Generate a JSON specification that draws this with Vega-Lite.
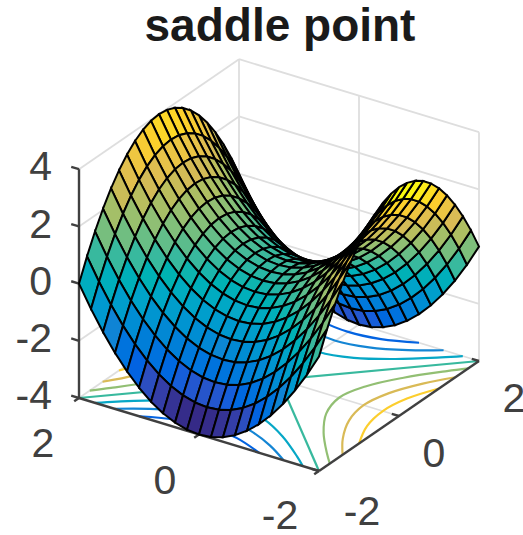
{"$schema":"https://vega.github.io/schema/vega-lite/v6.json","width":523,"height":535,"padding":0,"autosize":"none","background":"white",
"config":{"view":{"stroke":null}},
"datasets":{
"surface":[
{"x":2,"y":2,"z":0},{"x":2,"y":1.8,"z":-0.76},{"x":2,"y":1.6,"z":-1.44},{"x":2,"y":1.4,"z":-2.04},{"x":2,"y":1.2,"z":-2.56},{"x":2,"y":1,"z":-3},{"x":2,"y":0.8,"z":-3.36},{"x":2,"y":0.6,"z":-3.64},{"x":2,"y":0.4,"z":-3.84},{"x":2,"y":0.2,"z":-3.96},{"x":2,"y":0,"z":-4},{"x":2,"y":-0.2,"z":-3.96},{"x":2,"y":-0.4,"z":-3.84},{"x":2,"y":-0.6,"z":-3.64},{"x":2,"y":-0.8,"z":-3.36},{"x":2,"y":-1,"z":-3},{"x":2,"y":-1.2,"z":-2.56},{"x":2,"y":-1.4,"z":-2.04},{"x":2,"y":-1.6,"z":-1.44},{"x":2,"y":-1.8,"z":-0.76},{"x":2,"y":-2,"z":0},
{"x":1.8,"y":2,"z":0.76},{"x":1.8,"y":1.8,"z":0},{"x":1.8,"y":1.6,"z":-0.68},{"x":1.8,"y":1.4,"z":-1.28},{"x":1.8,"y":1.2,"z":-1.8},{"x":1.8,"y":1,"z":-2.24},{"x":1.8,"y":0.8,"z":-2.6},{"x":1.8,"y":0.6,"z":-2.88},{"x":1.8,"y":0.4,"z":-3.08},{"x":1.8,"y":0.2,"z":-3.2},{"x":1.8,"y":0,"z":-3.24},{"x":1.8,"y":-0.2,"z":-3.2},{"x":1.8,"y":-0.4,"z":-3.08},{"x":1.8,"y":-0.6,"z":-2.88},{"x":1.8,"y":-0.8,"z":-2.6},{"x":1.8,"y":-1,"z":-2.24},{"x":1.8,"y":-1.2,"z":-1.8},{"x":1.8,"y":-1.4,"z":-1.28},{"x":1.8,"y":-1.6,"z":-0.68},{"x":1.8,"y":-1.8,"z":0},{"x":1.8,"y":-2,"z":0.76},
{"x":1.6,"y":2,"z":1.44},{"x":1.6,"y":1.8,"z":0.68},{"x":1.6,"y":1.6,"z":0},{"x":1.6,"y":1.4,"z":-0.6},{"x":1.6,"y":1.2,"z":-1.12},{"x":1.6,"y":1,"z":-1.56},{"x":1.6,"y":0.8,"z":-1.92},{"x":1.6,"y":0.6,"z":-2.2},{"x":1.6,"y":0.4,"z":-2.4},{"x":1.6,"y":0.2,"z":-2.52},{"x":1.6,"y":0,"z":-2.56},{"x":1.6,"y":-0.2,"z":-2.52},{"x":1.6,"y":-0.4,"z":-2.4},{"x":1.6,"y":-0.6,"z":-2.2},{"x":1.6,"y":-0.8,"z":-1.92},{"x":1.6,"y":-1,"z":-1.56},{"x":1.6,"y":-1.2,"z":-1.12},{"x":1.6,"y":-1.4,"z":-0.6},{"x":1.6,"y":-1.6,"z":0},{"x":1.6,"y":-1.8,"z":0.68},{"x":1.6,"y":-2,"z":1.44},
{"x":1.4,"y":2,"z":2.04},{"x":1.4,"y":1.8,"z":1.28},{"x":1.4,"y":1.6,"z":0.6},{"x":1.4,"y":1.4,"z":0},{"x":1.4,"y":1.2,"z":-0.52},{"x":1.4,"y":1,"z":-0.96},{"x":1.4,"y":0.8,"z":-1.32},{"x":1.4,"y":0.6,"z":-1.6},{"x":1.4,"y":0.4,"z":-1.8},{"x":1.4,"y":0.2,"z":-1.92},{"x":1.4,"y":0,"z":-1.96},{"x":1.4,"y":-0.2,"z":-1.92},{"x":1.4,"y":-0.4,"z":-1.8},{"x":1.4,"y":-0.6,"z":-1.6},{"x":1.4,"y":-0.8,"z":-1.32},{"x":1.4,"y":-1,"z":-0.96},{"x":1.4,"y":-1.2,"z":-0.52},{"x":1.4,"y":-1.4,"z":0},{"x":1.4,"y":-1.6,"z":0.6},{"x":1.4,"y":-1.8,"z":1.28},{"x":1.4,"y":-2,"z":2.04},
{"x":1.2,"y":2,"z":2.56},{"x":1.2,"y":1.8,"z":1.8},{"x":1.2,"y":1.6,"z":1.12},{"x":1.2,"y":1.4,"z":0.52},{"x":1.2,"y":1.2,"z":0},{"x":1.2,"y":1,"z":-0.44},{"x":1.2,"y":0.8,"z":-0.8},{"x":1.2,"y":0.6,"z":-1.08},{"x":1.2,"y":0.4,"z":-1.28},{"x":1.2,"y":0.2,"z":-1.4},{"x":1.2,"y":0,"z":-1.44},{"x":1.2,"y":-0.2,"z":-1.4},{"x":1.2,"y":-0.4,"z":-1.28},{"x":1.2,"y":-0.6,"z":-1.08},{"x":1.2,"y":-0.8,"z":-0.8},{"x":1.2,"y":-1,"z":-0.44},{"x":1.2,"y":-1.2,"z":0},{"x":1.2,"y":-1.4,"z":0.52},{"x":1.2,"y":-1.6,"z":1.12},{"x":1.2,"y":-1.8,"z":1.8},{"x":1.2,"y":-2,"z":2.56},
{"x":1,"y":2,"z":3},{"x":1,"y":1.8,"z":2.24},{"x":1,"y":1.6,"z":1.56},{"x":1,"y":1.4,"z":0.96},{"x":1,"y":1.2,"z":0.44},{"x":1,"y":1,"z":0},{"x":1,"y":0.8,"z":-0.36},{"x":1,"y":0.6,"z":-0.64},{"x":1,"y":0.4,"z":-0.84},{"x":1,"y":0.2,"z":-0.96},{"x":1,"y":0,"z":-1},{"x":1,"y":-0.2,"z":-0.96},{"x":1,"y":-0.4,"z":-0.84},{"x":1,"y":-0.6,"z":-0.64},{"x":1,"y":-0.8,"z":-0.36},{"x":1,"y":-1,"z":0},{"x":1,"y":-1.2,"z":0.44},{"x":1,"y":-1.4,"z":0.96},{"x":1,"y":-1.6,"z":1.56},{"x":1,"y":-1.8,"z":2.24},{"x":1,"y":-2,"z":3},
{"x":0.8,"y":2,"z":3.36},{"x":0.8,"y":1.8,"z":2.6},{"x":0.8,"y":1.6,"z":1.92},{"x":0.8,"y":1.4,"z":1.32},{"x":0.8,"y":1.2,"z":0.8},{"x":0.8,"y":1,"z":0.36},{"x":0.8,"y":0.8,"z":0},{"x":0.8,"y":0.6,"z":-0.28},{"x":0.8,"y":0.4,"z":-0.48},{"x":0.8,"y":0.2,"z":-0.6},{"x":0.8,"y":0,"z":-0.64},{"x":0.8,"y":-0.2,"z":-0.6},{"x":0.8,"y":-0.4,"z":-0.48},{"x":0.8,"y":-0.6,"z":-0.28},{"x":0.8,"y":-0.8,"z":0},{"x":0.8,"y":-1,"z":0.36},{"x":0.8,"y":-1.2,"z":0.8},{"x":0.8,"y":-1.4,"z":1.32},{"x":0.8,"y":-1.6,"z":1.92},{"x":0.8,"y":-1.8,"z":2.6},{"x":0.8,"y":-2,"z":3.36},
{"x":0.6,"y":2,"z":3.64},{"x":0.6,"y":1.8,"z":2.88},{"x":0.6,"y":1.6,"z":2.2},{"x":0.6,"y":1.4,"z":1.6},{"x":0.6,"y":1.2,"z":1.08},{"x":0.6,"y":1,"z":0.64},{"x":0.6,"y":0.8,"z":0.28},{"x":0.6,"y":0.6,"z":0},{"x":0.6,"y":0.4,"z":-0.2},{"x":0.6,"y":0.2,"z":-0.32},{"x":0.6,"y":0,"z":-0.36},{"x":0.6,"y":-0.2,"z":-0.32},{"x":0.6,"y":-0.4,"z":-0.2},{"x":0.6,"y":-0.6,"z":0},{"x":0.6,"y":-0.8,"z":0.28},{"x":0.6,"y":-1,"z":0.64},{"x":0.6,"y":-1.2,"z":1.08},{"x":0.6,"y":-1.4,"z":1.6},{"x":0.6,"y":-1.6,"z":2.2},{"x":0.6,"y":-1.8,"z":2.88},{"x":0.6,"y":-2,"z":3.64},
{"x":0.4,"y":2,"z":3.84},{"x":0.4,"y":1.8,"z":3.08},{"x":0.4,"y":1.6,"z":2.4},{"x":0.4,"y":1.4,"z":1.8},{"x":0.4,"y":1.2,"z":1.28},{"x":0.4,"y":1,"z":0.84},{"x":0.4,"y":0.8,"z":0.48},{"x":0.4,"y":0.6,"z":0.2},{"x":0.4,"y":0.4,"z":0},{"x":0.4,"y":0.2,"z":-0.12},{"x":0.4,"y":0,"z":-0.16},{"x":0.4,"y":-0.2,"z":-0.12},{"x":0.4,"y":-0.4,"z":0},{"x":0.4,"y":-0.6,"z":0.2},{"x":0.4,"y":-0.8,"z":0.48},{"x":0.4,"y":-1,"z":0.84},{"x":0.4,"y":-1.2,"z":1.28},{"x":0.4,"y":-1.4,"z":1.8},{"x":0.4,"y":-1.6,"z":2.4},{"x":0.4,"y":-1.8,"z":3.08},{"x":0.4,"y":-2,"z":3.84},
{"x":0.2,"y":2,"z":3.96},{"x":0.2,"y":1.8,"z":3.2},{"x":0.2,"y":1.6,"z":2.52},{"x":0.2,"y":1.4,"z":1.92},{"x":0.2,"y":1.2,"z":1.4},{"x":0.2,"y":1,"z":0.96},{"x":0.2,"y":0.8,"z":0.6},{"x":0.2,"y":0.6,"z":0.32},{"x":0.2,"y":0.4,"z":0.12},{"x":0.2,"y":0.2,"z":0},{"x":0.2,"y":0,"z":-0.04},{"x":0.2,"y":-0.2,"z":0},{"x":0.2,"y":-0.4,"z":0.12},{"x":0.2,"y":-0.6,"z":0.32},{"x":0.2,"y":-0.8,"z":0.6},{"x":0.2,"y":-1,"z":0.96},{"x":0.2,"y":-1.2,"z":1.4},{"x":0.2,"y":-1.4,"z":1.92},{"x":0.2,"y":-1.6,"z":2.52},{"x":0.2,"y":-1.8,"z":3.2},{"x":0.2,"y":-2,"z":3.96},
{"x":0,"y":2,"z":4},{"x":0,"y":1.8,"z":3.24},{"x":0,"y":1.6,"z":2.56},{"x":0,"y":1.4,"z":1.96},{"x":0,"y":1.2,"z":1.44},{"x":0,"y":1,"z":1},{"x":0,"y":0.8,"z":0.64},{"x":0,"y":0.6,"z":0.36},{"x":0,"y":0.4,"z":0.16},{"x":0,"y":0.2,"z":0.04},{"x":0,"y":0,"z":0},{"x":0,"y":-0.2,"z":0.04},{"x":0,"y":-0.4,"z":0.16},{"x":0,"y":-0.6,"z":0.36},{"x":0,"y":-0.8,"z":0.64},{"x":0,"y":-1,"z":1},{"x":0,"y":-1.2,"z":1.44},{"x":0,"y":-1.4,"z":1.96},{"x":0,"y":-1.6,"z":2.56},{"x":0,"y":-1.8,"z":3.24},{"x":0,"y":-2,"z":4},
{"x":-0.2,"y":2,"z":3.96},{"x":-0.2,"y":1.8,"z":3.2},{"x":-0.2,"y":1.6,"z":2.52},{"x":-0.2,"y":1.4,"z":1.92},{"x":-0.2,"y":1.2,"z":1.4},{"x":-0.2,"y":1,"z":0.96},{"x":-0.2,"y":0.8,"z":0.6},{"x":-0.2,"y":0.6,"z":0.32},{"x":-0.2,"y":0.4,"z":0.12},{"x":-0.2,"y":0.2,"z":0},{"x":-0.2,"y":0,"z":-0.04},{"x":-0.2,"y":-0.2,"z":0},{"x":-0.2,"y":-0.4,"z":0.12},{"x":-0.2,"y":-0.6,"z":0.32},{"x":-0.2,"y":-0.8,"z":0.6},{"x":-0.2,"y":-1,"z":0.96},{"x":-0.2,"y":-1.2,"z":1.4},{"x":-0.2,"y":-1.4,"z":1.92},{"x":-0.2,"y":-1.6,"z":2.52},{"x":-0.2,"y":-1.8,"z":3.2},{"x":-0.2,"y":-2,"z":3.96},
{"x":-0.4,"y":2,"z":3.84},{"x":-0.4,"y":1.8,"z":3.08},{"x":-0.4,"y":1.6,"z":2.4},{"x":-0.4,"y":1.4,"z":1.8},{"x":-0.4,"y":1.2,"z":1.28},{"x":-0.4,"y":1,"z":0.84},{"x":-0.4,"y":0.8,"z":0.48},{"x":-0.4,"y":0.6,"z":0.2},{"x":-0.4,"y":0.4,"z":0},{"x":-0.4,"y":0.2,"z":-0.12},{"x":-0.4,"y":0,"z":-0.16},{"x":-0.4,"y":-0.2,"z":-0.12},{"x":-0.4,"y":-0.4,"z":0},{"x":-0.4,"y":-0.6,"z":0.2},{"x":-0.4,"y":-0.8,"z":0.48},{"x":-0.4,"y":-1,"z":0.84},{"x":-0.4,"y":-1.2,"z":1.28},{"x":-0.4,"y":-1.4,"z":1.8},{"x":-0.4,"y":-1.6,"z":2.4},{"x":-0.4,"y":-1.8,"z":3.08},{"x":-0.4,"y":-2,"z":3.84},
{"x":-0.6,"y":2,"z":3.64},{"x":-0.6,"y":1.8,"z":2.88},{"x":-0.6,"y":1.6,"z":2.2},{"x":-0.6,"y":1.4,"z":1.6},{"x":-0.6,"y":1.2,"z":1.08},{"x":-0.6,"y":1,"z":0.64},{"x":-0.6,"y":0.8,"z":0.28},{"x":-0.6,"y":0.6,"z":0},{"x":-0.6,"y":0.4,"z":-0.2},{"x":-0.6,"y":0.2,"z":-0.32},{"x":-0.6,"y":0,"z":-0.36},{"x":-0.6,"y":-0.2,"z":-0.32},{"x":-0.6,"y":-0.4,"z":-0.2},{"x":-0.6,"y":-0.6,"z":0},{"x":-0.6,"y":-0.8,"z":0.28},{"x":-0.6,"y":-1,"z":0.64},{"x":-0.6,"y":-1.2,"z":1.08},{"x":-0.6,"y":-1.4,"z":1.6},{"x":-0.6,"y":-1.6,"z":2.2},{"x":-0.6,"y":-1.8,"z":2.88},{"x":-0.6,"y":-2,"z":3.64},
{"x":-0.8,"y":2,"z":3.36},{"x":-0.8,"y":1.8,"z":2.6},{"x":-0.8,"y":1.6,"z":1.92},{"x":-0.8,"y":1.4,"z":1.32},{"x":-0.8,"y":1.2,"z":0.8},{"x":-0.8,"y":1,"z":0.36},{"x":-0.8,"y":0.8,"z":0},{"x":-0.8,"y":0.6,"z":-0.28},{"x":-0.8,"y":0.4,"z":-0.48},{"x":-0.8,"y":0.2,"z":-0.6},{"x":-0.8,"y":0,"z":-0.64},{"x":-0.8,"y":-0.2,"z":-0.6},{"x":-0.8,"y":-0.4,"z":-0.48},{"x":-0.8,"y":-0.6,"z":-0.28},{"x":-0.8,"y":-0.8,"z":0},{"x":-0.8,"y":-1,"z":0.36},{"x":-0.8,"y":-1.2,"z":0.8},{"x":-0.8,"y":-1.4,"z":1.32},{"x":-0.8,"y":-1.6,"z":1.92},{"x":-0.8,"y":-1.8,"z":2.6},{"x":-0.8,"y":-2,"z":3.36},
{"x":-1,"y":2,"z":3},{"x":-1,"y":1.8,"z":2.24},{"x":-1,"y":1.6,"z":1.56},{"x":-1,"y":1.4,"z":0.96},{"x":-1,"y":1.2,"z":0.44},{"x":-1,"y":1,"z":0},{"x":-1,"y":0.8,"z":-0.36},{"x":-1,"y":0.6,"z":-0.64},{"x":-1,"y":0.4,"z":-0.84},{"x":-1,"y":0.2,"z":-0.96},{"x":-1,"y":0,"z":-1},{"x":-1,"y":-0.2,"z":-0.96},{"x":-1,"y":-0.4,"z":-0.84},{"x":-1,"y":-0.6,"z":-0.64},{"x":-1,"y":-0.8,"z":-0.36},{"x":-1,"y":-1,"z":0},{"x":-1,"y":-1.2,"z":0.44},{"x":-1,"y":-1.4,"z":0.96},{"x":-1,"y":-1.6,"z":1.56},{"x":-1,"y":-1.8,"z":2.24},{"x":-1,"y":-2,"z":3},
{"x":-1.2,"y":2,"z":2.56},{"x":-1.2,"y":1.8,"z":1.8},{"x":-1.2,"y":1.6,"z":1.12},{"x":-1.2,"y":1.4,"z":0.52},{"x":-1.2,"y":1.2,"z":0},{"x":-1.2,"y":1,"z":-0.44},{"x":-1.2,"y":0.8,"z":-0.8},{"x":-1.2,"y":0.6,"z":-1.08},{"x":-1.2,"y":0.4,"z":-1.28},{"x":-1.2,"y":0.2,"z":-1.4},{"x":-1.2,"y":0,"z":-1.44},{"x":-1.2,"y":-0.2,"z":-1.4},{"x":-1.2,"y":-0.4,"z":-1.28},{"x":-1.2,"y":-0.6,"z":-1.08},{"x":-1.2,"y":-0.8,"z":-0.8},{"x":-1.2,"y":-1,"z":-0.44},{"x":-1.2,"y":-1.2,"z":0},{"x":-1.2,"y":-1.4,"z":0.52},{"x":-1.2,"y":-1.6,"z":1.12},{"x":-1.2,"y":-1.8,"z":1.8},{"x":-1.2,"y":-2,"z":2.56},
{"x":-1.4,"y":2,"z":2.04},{"x":-1.4,"y":1.8,"z":1.28},{"x":-1.4,"y":1.6,"z":0.6},{"x":-1.4,"y":1.4,"z":0},{"x":-1.4,"y":1.2,"z":-0.52},{"x":-1.4,"y":1,"z":-0.96},{"x":-1.4,"y":0.8,"z":-1.32},{"x":-1.4,"y":0.6,"z":-1.6},{"x":-1.4,"y":0.4,"z":-1.8},{"x":-1.4,"y":0.2,"z":-1.92},{"x":-1.4,"y":0,"z":-1.96},{"x":-1.4,"y":-0.2,"z":-1.92},{"x":-1.4,"y":-0.4,"z":-1.8},{"x":-1.4,"y":-0.6,"z":-1.6},{"x":-1.4,"y":-0.8,"z":-1.32},{"x":-1.4,"y":-1,"z":-0.96},{"x":-1.4,"y":-1.2,"z":-0.52},{"x":-1.4,"y":-1.4,"z":0},{"x":-1.4,"y":-1.6,"z":0.6},{"x":-1.4,"y":-1.8,"z":1.28},{"x":-1.4,"y":-2,"z":2.04},
{"x":-1.6,"y":2,"z":1.44},{"x":-1.6,"y":1.8,"z":0.68},{"x":-1.6,"y":1.6,"z":0},{"x":-1.6,"y":1.4,"z":-0.6},{"x":-1.6,"y":1.2,"z":-1.12},{"x":-1.6,"y":1,"z":-1.56},{"x":-1.6,"y":0.8,"z":-1.92},{"x":-1.6,"y":0.6,"z":-2.2},{"x":-1.6,"y":0.4,"z":-2.4},{"x":-1.6,"y":0.2,"z":-2.52},{"x":-1.6,"y":0,"z":-2.56},{"x":-1.6,"y":-0.2,"z":-2.52},{"x":-1.6,"y":-0.4,"z":-2.4},{"x":-1.6,"y":-0.6,"z":-2.2},{"x":-1.6,"y":-0.8,"z":-1.92},{"x":-1.6,"y":-1,"z":-1.56},{"x":-1.6,"y":-1.2,"z":-1.12},{"x":-1.6,"y":-1.4,"z":-0.6},{"x":-1.6,"y":-1.6,"z":0},{"x":-1.6,"y":-1.8,"z":0.68},{"x":-1.6,"y":-2,"z":1.44},
{"x":-1.8,"y":2,"z":0.76},{"x":-1.8,"y":1.8,"z":0},{"x":-1.8,"y":1.6,"z":-0.68},{"x":-1.8,"y":1.4,"z":-1.28},{"x":-1.8,"y":1.2,"z":-1.8},{"x":-1.8,"y":1,"z":-2.24},{"x":-1.8,"y":0.8,"z":-2.6},{"x":-1.8,"y":0.6,"z":-2.88},{"x":-1.8,"y":0.4,"z":-3.08},{"x":-1.8,"y":0.2,"z":-3.2},{"x":-1.8,"y":0,"z":-3.24},{"x":-1.8,"y":-0.2,"z":-3.2},{"x":-1.8,"y":-0.4,"z":-3.08},{"x":-1.8,"y":-0.6,"z":-2.88},{"x":-1.8,"y":-0.8,"z":-2.6},{"x":-1.8,"y":-1,"z":-2.24},{"x":-1.8,"y":-1.2,"z":-1.8},{"x":-1.8,"y":-1.4,"z":-1.28},{"x":-1.8,"y":-1.6,"z":-0.68},{"x":-1.8,"y":-1.8,"z":0},{"x":-1.8,"y":-2,"z":0.76},
{"x":-2,"y":2,"z":0},{"x":-2,"y":1.8,"z":-0.76},{"x":-2,"y":1.6,"z":-1.44},{"x":-2,"y":1.4,"z":-2.04},{"x":-2,"y":1.2,"z":-2.56},{"x":-2,"y":1,"z":-3},{"x":-2,"y":0.8,"z":-3.36},{"x":-2,"y":0.6,"z":-3.64},{"x":-2,"y":0.4,"z":-3.84},{"x":-2,"y":0.2,"z":-3.96},{"x":-2,"y":0,"z":-4},{"x":-2,"y":-0.2,"z":-3.96},{"x":-2,"y":-0.4,"z":-3.84},{"x":-2,"y":-0.6,"z":-3.64},{"x":-2,"y":-0.8,"z":-3.36},{"x":-2,"y":-1,"z":-3},{"x":-2,"y":-1.2,"z":-2.56},{"x":-2,"y":-1.4,"z":-2.04},{"x":-2,"y":-1.6,"z":-1.44},{"x":-2,"y":-1.8,"z":-0.76},{"x":-2,"y":-2,"z":0}
],
"grid":[
{"id":"a","x":-2,"y":2,"z":4},{"id":"a","x":2,"y":2,"z":4},{"id":"b","x":-2,"y":2,"z":2},{"id":"b","x":2,"y":2,"z":2},{"id":"c","x":-2,"y":2,"z":0},{"id":"c","x":2,"y":2,"z":0},{"id":"d","x":-2,"y":2,"z":-2},{"id":"d","x":2,"y":2,"z":-2},{"id":"e","x":-2,"y":2,"z":-4},{"id":"e","x":2,"y":2,"z":-4},
{"id":"f","x":0,"y":2,"z":-4},{"id":"f","x":0,"y":2,"z":4},{"id":"g","x":2,"y":2,"z":-4},{"id":"g","x":2,"y":2,"z":4},
{"id":"h","x":2,"y":2,"z":4},{"id":"h","x":2,"y":-2,"z":4},{"id":"i","x":2,"y":2,"z":2},{"id":"i","x":2,"y":-2,"z":2},{"id":"j","x":2,"y":2,"z":0},{"id":"j","x":2,"y":-2,"z":0},{"id":"k","x":2,"y":2,"z":-2},{"id":"k","x":2,"y":-2,"z":-2},{"id":"l","x":2,"y":2,"z":-4},{"id":"l","x":2,"y":-2,"z":-4},
{"id":"m","x":2,"y":0,"z":-4},{"id":"m","x":2,"y":0,"z":4},{"id":"n","x":2,"y":-2,"z":-4},{"id":"n","x":2,"y":-2,"z":4},
{"id":"o","x":0,"y":-2,"z":-4},{"id":"o","x":0,"y":2,"z":-4},{"id":"p","x":-2,"y":0,"z":-4},{"id":"p","x":2,"y":0,"z":-4}
],
"axes":[
{"id":"zaxis","x":-2,"y":2,"z":-4},{"id":"zaxis","x":-2,"y":2,"z":4},
{"id":"xaxis","x":-2,"y":-2,"z":-4},{"id":"xaxis","x":2,"y":-2,"z":-4},
{"id":"yaxis","x":-2,"y":-2,"z":-4},{"id":"yaxis","x":-2,"y":2,"z":-4},
{"id":"t1","x":-2,"y":2,"z":4},{"id":"t1","x":-2,"y":2.13,"z":4},{"id":"t2","x":-2,"y":2,"z":2},{"id":"t2","x":-2,"y":2.13,"z":2},{"id":"t3","x":-2,"y":2,"z":0},{"id":"t3","x":-2,"y":2.13,"z":0},{"id":"t4","x":-2,"y":2,"z":-2},{"id":"t4","x":-2,"y":2.13,"z":-2},{"id":"t5","x":-2,"y":2,"z":-4},{"id":"t5","x":-2,"y":2.13,"z":-4},
{"id":"t6","x":-2,"y":-2,"z":-4},{"id":"t6","x":-2,"y":-1.88,"z":-4},{"id":"t7","x":0,"y":-2,"z":-4},{"id":"t7","x":0,"y":-1.88,"z":-4},{"id":"t8","x":2,"y":-2,"z":-4},{"id":"t8","x":2,"y":-1.88,"z":-4},
{"id":"t9","x":-2,"y":-2,"z":-4},{"id":"t9","x":-2.12,"y":-2,"z":-4},{"id":"t10","x":-2,"y":0,"z":-4},{"id":"t10","x":-2.12,"y":0,"z":-4},{"id":"t11","x":-2,"y":2,"z":-4},{"id":"t11","x":-2.12,"y":2,"z":-4}
],
"contours":[
{"id":"c0a","level":0,"x":-2,"y":-2},{"id":"c0a","level":0,"x":2,"y":2},
{"id":"c0b","level":0,"x":-2,"y":2},{"id":"c0b","level":0,"x":2,"y":-2},
{"id":"p1a","level":1,"x":-1.73,"y":-2},{"id":"p1a","level":1,"x":-1.5,"y":-1.8},{"id":"p1a","level":1,"x":-1,"y":-1.41},{"id":"p1a","level":1,"x":-0.5,"y":-1.12},{"id":"p1a","level":1,"x":0,"y":-1},{"id":"p1a","level":1,"x":0.5,"y":-1.12},{"id":"p1a","level":1,"x":1,"y":-1.41},{"id":"p1a","level":1,"x":1.5,"y":-1.8},{"id":"p1a","level":1,"x":1.73,"y":-2},
{"id":"p1b","level":1,"x":-1.73,"y":2},{"id":"p1b","level":1,"x":-1.5,"y":1.8},{"id":"p1b","level":1,"x":-1,"y":1.41},{"id":"p1b","level":1,"x":-0.5,"y":1.12},{"id":"p1b","level":1,"x":0,"y":1},{"id":"p1b","level":1,"x":0.5,"y":1.12},{"id":"p1b","level":1,"x":1,"y":1.41},{"id":"p1b","level":1,"x":1.5,"y":1.8},{"id":"p1b","level":1,"x":1.73,"y":2},
{"id":"p2a","level":2,"x":-1.41,"y":-2},{"id":"p2a","level":2,"x":-1,"y":-1.73},{"id":"p2a","level":2,"x":-0.5,"y":-1.5},{"id":"p2a","level":2,"x":0,"y":-1.41},{"id":"p2a","level":2,"x":0.5,"y":-1.5},{"id":"p2a","level":2,"x":1,"y":-1.73},{"id":"p2a","level":2,"x":1.41,"y":-2},
{"id":"p2b","level":2,"x":-1.41,"y":2},{"id":"p2b","level":2,"x":-1,"y":1.73},{"id":"p2b","level":2,"x":-0.5,"y":1.5},{"id":"p2b","level":2,"x":0,"y":1.41},{"id":"p2b","level":2,"x":0.5,"y":1.5},{"id":"p2b","level":2,"x":1,"y":1.73},{"id":"p2b","level":2,"x":1.41,"y":2},
{"id":"p3a","level":3,"x":-1,"y":-2},{"id":"p3a","level":3,"x":-0.5,"y":-1.8},{"id":"p3a","level":3,"x":0,"y":-1.73},{"id":"p3a","level":3,"x":0.5,"y":-1.8},{"id":"p3a","level":3,"x":1,"y":-2},
{"id":"p3b","level":3,"x":-1,"y":2},{"id":"p3b","level":3,"x":-0.5,"y":1.8},{"id":"p3b","level":3,"x":0,"y":1.73},{"id":"p3b","level":3,"x":0.5,"y":1.8},{"id":"p3b","level":3,"x":1,"y":2},
{"id":"n1a","level":-1,"y":-1.73,"x":-2},{"id":"n1a","level":-1,"y":-1.5,"x":-1.8},{"id":"n1a","level":-1,"y":-1,"x":-1.41},{"id":"n1a","level":-1,"y":-0.5,"x":-1.12},{"id":"n1a","level":-1,"y":0,"x":-1},{"id":"n1a","level":-1,"y":0.5,"x":-1.12},{"id":"n1a","level":-1,"y":1,"x":-1.41},{"id":"n1a","level":-1,"y":1.5,"x":-1.8},{"id":"n1a","level":-1,"y":1.73,"x":-2},
{"id":"n1b","level":-1,"y":-1.73,"x":2},{"id":"n1b","level":-1,"y":-1.5,"x":1.8},{"id":"n1b","level":-1,"y":-1,"x":1.41},{"id":"n1b","level":-1,"y":-0.5,"x":1.12},{"id":"n1b","level":-1,"y":0,"x":1},{"id":"n1b","level":-1,"y":0.5,"x":1.12},{"id":"n1b","level":-1,"y":1,"x":1.41},{"id":"n1b","level":-1,"y":1.5,"x":1.8},{"id":"n1b","level":-1,"y":1.73,"x":2},
{"id":"n2a","level":-2,"y":-1.41,"x":-2},{"id":"n2a","level":-2,"y":-1,"x":-1.73},{"id":"n2a","level":-2,"y":-0.5,"x":-1.5},{"id":"n2a","level":-2,"y":0,"x":-1.41},{"id":"n2a","level":-2,"y":0.5,"x":-1.5},{"id":"n2a","level":-2,"y":1,"x":-1.73},{"id":"n2a","level":-2,"y":1.41,"x":-2},
{"id":"n2b","level":-2,"y":-1.41,"x":2},{"id":"n2b","level":-2,"y":-1,"x":1.73},{"id":"n2b","level":-2,"y":-0.5,"x":1.5},{"id":"n2b","level":-2,"y":0,"x":1.41},{"id":"n2b","level":-2,"y":0.5,"x":1.5},{"id":"n2b","level":-2,"y":1,"x":1.73},{"id":"n2b","level":-2,"y":1.41,"x":2},
{"id":"n3a","level":-3,"y":-1,"x":-2},{"id":"n3a","level":-3,"y":-0.5,"x":-1.8},{"id":"n3a","level":-3,"y":0,"x":-1.73},{"id":"n3a","level":-3,"y":0.5,"x":-1.8},{"id":"n3a","level":-3,"y":1,"x":-2},
{"id":"n3b","level":-3,"y":-1,"x":2},{"id":"n3b","level":-3,"y":-0.5,"x":1.8},{"id":"n3b","level":-3,"y":0,"x":1.73},{"id":"n3b","level":-3,"y":0.5,"x":1.8},{"id":"n3b","level":-3,"y":1,"x":2}
],
"labels":[
{"t":"4","x":-2,"y":2.45,"z":3.74},{"t":"2","x":-2,"y":2.45,"z":1.74},{"t":"0","x":-2,"y":2.45,"z":-0.26},{"t":"-2","x":-2,"y":2.45,"z":-2.26},{"t":"-4","x":-2,"y":2.45,"z":-4.26}
],
"ticklabels":[
{"t":"-2","x":-2,"y":-2.717,"z":-5.01},{"t":"0","x":0,"y":-2.583,"z":-4.99},{"t":"2","x":2,"y":-2.583,"z":-4.99},
{"t":"2","x":-2.9,"y":2,"z":-4.78},{"t":"0","x":-2.85,"y":0,"z":-4.84},{"t":"-2","x":-2.975,"y":-2,"z":-4.67}
],
"heading":[{"t":"saddle point","x":2,"y":1.317,"z":5.07}]
},
"layer":[
{"data":{"name":"grid"},
 "transform":[{"calculate":"319+40*(datum.x+2)-60*(datum.y+2)","as":"sx"},{"calculate":"471-27.5*(datum.x+2)-18.25*(datum.y+2)-28.6*(datum.z+4)","as":"sy"}],
 "mark":{"type":"line","stroke":"#dedede","strokeWidth":1.8},
 "encoding":{"x":{"field":"sx","type":"quantitative","scale":{"domain":[0,523],"range":[0,523]},"axis":null},"y":{"field":"sy","type":"quantitative","scale":{"domain":[0,535],"range":[0,535]},"axis":null},"detail":{"field":"id"},"order":{"value":null}}},
{"data":{"name":"contours"},
 "transform":[{"calculate":"319+40*(datum.x+2)-60*(datum.y+2)","as":"sx"},{"calculate":"471-27.5*(datum.x+2)-18.25*(datum.y+2)","as":"sy"}],
 "mark":{"type":"line","strokeWidth":2.2,"interpolate":"catmull-rom"},
 "encoding":{"x":{"field":"sx","type":"quantitative","scale":{"domain":[0,523],"range":[0,523]},"axis":null},"y":{"field":"sy","type":"quantitative","scale":{"domain":[0,535],"range":[0,535]},"axis":null},"detail":{"field":"id"},"order":{"value":null},
  "stroke":{"field":"level","type":"quantitative","legend":null,"scale":{"domain":[-4,-3,-2,-1,0,1,2,3,4],"range":["#352a87","#0363e1","#1485d4","#06a7c6","#38b99e","#92bf73","#d9ba56","#fcce2e","#f9fb0e"]}}}},
{"data":{"name":"axes"},
 "transform":[{"calculate":"319+40*(datum.x+2)-60*(datum.y+2)","as":"sx"},{"calculate":"471-27.5*(datum.x+2)-18.25*(datum.y+2)-28.6*(datum.z+4)","as":"sy"}],
 "mark":{"type":"line","stroke":"#404040","strokeWidth":2.4},
 "encoding":{"x":{"field":"sx","type":"quantitative","scale":{"domain":[0,523],"range":[0,523]},"axis":null},"y":{"field":"sy","type":"quantitative","scale":{"domain":[0,535],"range":[0,535]},"axis":null},"detail":{"field":"id"},"order":{"value":null}}},
{"data":{"name":"surface"},
 "transform":[
  {"calculate":"[0,1,2,3]","as":"c"},{"flatten":["c"]},
  {"calculate":"round((datum.x+2)*5)-((datum.c==1||datum.c==2)?1:0)","as":"ci"},
  {"calculate":"round((datum.y+2)*5)-(datum.c>=2?1:0)","as":"cj"},
  {"filter":"datum.ci>=0&&datum.ci<20&&datum.cj>=0&&datum.cj<20"},
  {"calculate":"'q'+datum.ci+'_'+datum.cj","as":"cell"},
  {"calculate":"datum.c==0?datum.z:null","as":"zc"},
  {"joinaggregate":[{"op":"max","field":"zc","as":"zf"}],"groupby":["cell"]},
  {"calculate":"319+40*(datum.x+2)-60*(datum.y+2)","as":"sx"},{"calculate":"471-27.5*(datum.x+2)-18.25*(datum.y+2)-28.6*(datum.z+4)","as":"sy"}],
 "mark":{"type":"line","interpolate":"linear-closed","stroke":"#000000","strokeWidth":2},
 "encoding":{"x":{"field":"sx","type":"quantitative","scale":{"domain":[0,523],"range":[0,523]},"axis":null},"y":{"field":"sy","type":"quantitative","scale":{"domain":[0,535],"range":[0,535]},"axis":null},"detail":{"field":"cell"},"order":{"field":"c","type":"quantitative"},
  "fill":{"field":"zf","type":"quantitative","legend":null,"scale":{"domain":[-4,-3,-2,-1,0,1,2,3,4],"range":["#352a87","#0363e1","#1485d4","#06a7c6","#38b99e","#92bf73","#d9ba56","#fcce2e","#f9fb0e"]}}}},
{"data":{"name":"labels"},
 "transform":[{"calculate":"319+40*(datum.x+2)-60*(datum.y+2)","as":"sx"},{"calculate":"471-27.5*(datum.x+2)-18.25*(datum.y+2)-28.6*(datum.z+4)","as":"sy"}],
 "mark":{"type":"text","align":"right","baseline":"middle","font":"Liberation Sans","fontSize":41,"fill":"#404040"},
 "encoding":{"x":{"field":"sx","type":"quantitative","scale":{"domain":[0,523],"range":[0,523]},"axis":null},"y":{"field":"sy","type":"quantitative","scale":{"domain":[0,535],"range":[0,535]},"axis":null},"text":{"field":"t"}}},
{"data":{"name":"ticklabels"},
 "transform":[{"calculate":"319+40*(datum.x+2)-60*(datum.y+2)","as":"sx"},{"calculate":"471-27.5*(datum.x+2)-18.25*(datum.y+2)-28.6*(datum.z+4)","as":"sy"}],
 "mark":{"type":"text","align":"center","baseline":"middle","font":"Liberation Sans","fontSize":41,"fill":"#404040"},
 "encoding":{"x":{"field":"sx","type":"quantitative","scale":{"domain":[0,523],"range":[0,523]},"axis":null},"y":{"field":"sy","type":"quantitative","scale":{"domain":[0,535],"range":[0,535]},"axis":null},"text":{"field":"t"}}},
{"data":{"name":"heading"},
 "transform":[{"calculate":"319+40*(datum.x+2)-60*(datum.y+2)","as":"sx"},{"calculate":"471-27.5*(datum.x+2)-18.25*(datum.y+2)-28.6*(datum.z+4)","as":"sy"}],
 "mark":{"type":"text","align":"center","baseline":"alphabetic","font":"Liberation Sans","fontSize":46,"fontWeight":"bold","fill":"#1a1a1a"},
 "encoding":{"x":{"field":"sx","type":"quantitative","scale":{"domain":[0,523],"range":[0,523]},"axis":null},"y":{"field":"sy","type":"quantitative","scale":{"domain":[0,535],"range":[0,535]},"axis":null},"text":{"field":"t"}}}
],
"resolve":{"scale":{"fill":"independent","stroke":"independent"}}}
